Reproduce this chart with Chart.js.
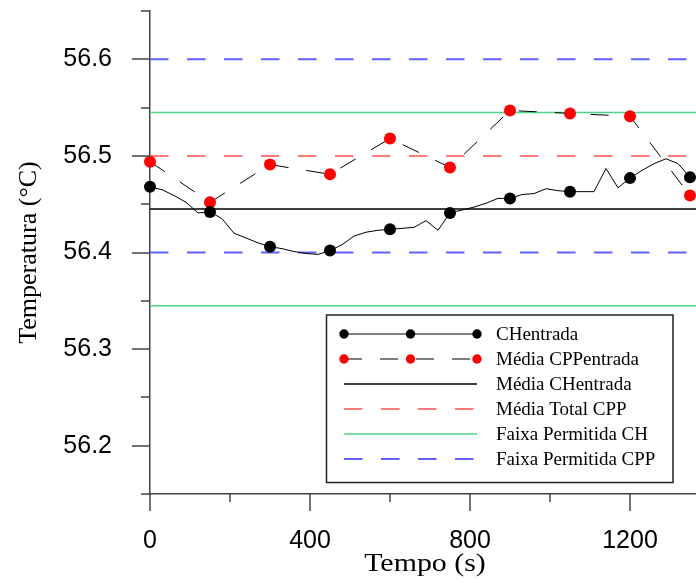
<!DOCTYPE html>
<html>
<head>
<meta charset="utf-8">
<script src="https://cdn.jsdelivr.net/npm/chart.js@4/dist/chart.umd.min.js"></script>
<style>
  html, body { margin: 0; padding: 0; background: #fff; }
  canvas { display: block; }
</style>
</head>
<body>
<canvas id="grafico" width="696" height="583"></canvas>
<script>
// CH na entrada, a cada 30 s
const tempos = [0, 30, 60, 90, 120, 150, 180, 210, 240, 270, 300, 330, 360, 390, 420, 450,
  480, 510, 540, 570, 600, 630, 660, 690, 720, 750, 780, 810, 840, 870, 900, 930, 960, 990,
  1020, 1050, 1080, 1110, 1140, 1170, 1200, 1230, 1260, 1290, 1320, 1350]
const chEntrada = [56.468, 56.465, 56.459, 56.452, 56.441, 56.442, 56.435, 56.420, 56.415, 56.410,
  56.406, 56.404, 56.401, 56.399, 56.398, 56.402, 56.408, 56.417, 56.421, 56.423, 56.424, 56.425,
  56.426, 56.433, 56.423, 56.441, 56.444, 56.447, 56.451, 56.456, 56.456, 56.460, 56.461, 56.466,
  56.464, 56.463, 56.463, 56.463, 56.487, 56.467, 56.477, 56.485, 56.492, 56.497, 56.492, 56.478]

// media CPP na entrada, a cada 150 s
const temposCPP = [0, 150, 300, 450, 600, 750, 900, 1050, 1200, 1350]
const cppEntrada = [56.494, 56.452, 56.491, 56.481, 56.518, 56.488, 56.547, 56.544, 56.541, 56.459]

const mediaCH = 56.445
const mediaCPP = 56.5
const faixaCH = [56.345, 56.545]
const faixaCPP = [56.4, 56.6]

const xLimites = [0, 1365]
const yLimites = [56.15, 56.65]
const xTicksMaior = [0, 400, 800, 1200]
const xTicksMenor = [200, 600, 1000]
const yTicksMaior = [56.2, 56.3, 56.4, 56.5, 56.6]
const yTicksMenor = [56.15, 56.25, 56.35, 56.45, 56.55, 56.65]

const DASH = [18.5, 18.5]
const corAzul = '#6060ff'
const corVermelha = '#ff5050'
const corVerde = '#50d585'
const corEixo = '#444'
const serif = '"Liberation Serif", "Times New Roman", serif'

function horizontal(y) {
  return xLimites.map(x => ({ x: x, y: y }))
}

const datasets = [
  {
    label: 'CHentrada',
    data: tempos.map((t, i) => ({ x: t, y: chEntrada[i] })),
    borderColor: '#000',
    borderWidth: 1,
    pointRadius: ctx => (tempos[ctx.dataIndex] % 150 === 0 ? 6 : 0),
    pointBackgroundColor: '#000',
    pointBorderWidth: 0,
    legenda: { marcador: '#000' }
  },
  {
    label: 'Média CPPentrada',
    data: temposCPP.map((t, i) => ({ x: t, y: cppEntrada[i] })),
    borderColor: '#000',
    borderWidth: 1,
    borderDash: [18, 18],
    pointRadius: 6,
    pointBackgroundColor: '#ff0000',
    pointBorderWidth: 0,
    legenda: { marcador: '#ff0000' }
  },
  {
    label: 'Média CHentrada',
    data: horizontal(mediaCH),
    borderColor: '#000',
    borderWidth: 1.5,
    pointRadius: 0,
    legenda: {}
  },
  {
    label: 'Média Total CPP',
    data: horizontal(mediaCPP),
    borderColor: corVermelha,
    borderWidth: 1.5,
    borderDash: DASH,
    pointRadius: 0,
    legenda: {}
  },
  {
    label: 'Faixa Permitida CH',
    data: horizontal(faixaCH[1]),
    borderColor: corVerde,
    borderWidth: 1.5,
    pointRadius: 0,
    legenda: {}
  },
  {
    label: 'Faixa Permitida CH',
    data: horizontal(faixaCH[0]),
    borderColor: corVerde,
    borderWidth: 1.5,
    pointRadius: 0
  },
  {
    label: 'Faixa Permitida CPP',
    data: horizontal(faixaCPP[1]),
    borderColor: corAzul,
    borderWidth: 2,
    borderDash: DASH,
    pointRadius: 0,
    legenda: {}
  },
  {
    label: 'Faixa Permitida CPP',
    data: horizontal(faixaCPP[0]),
    borderColor: corAzul,
    borderWidth: 2,
    borderDash: DASH,
    pointRadius: 0
  }
]
datasets.forEach(d => { d.clip = false; d.tension = 0; d.fill = false })

// ticks maiores e menores desenhados a mao, e o titulo do eixo x (texto um pouco largo)
const ticksEixos = {
  id: 'ticksEixos',
  afterDraw(chart) {
    const ctx = chart.ctx
    const sx = chart.scales.x
    const sy = chart.scales.y
    const area = chart.chartArea
    ctx.save()
    ctx.strokeStyle = corEixo
    ctx.lineWidth = 1.5
    ctx.beginPath()
    xTicksMaior.forEach(v => {
      const px = Math.round(sx.getPixelForValue(v))
      ctx.moveTo(px, area.bottom); ctx.lineTo(px, area.bottom + 17)
    })
    xTicksMenor.forEach(v => {
      const px = Math.round(sx.getPixelForValue(v))
      ctx.moveTo(px, area.bottom); ctx.lineTo(px, area.bottom + 8)
    })
    yTicksMaior.forEach(v => {
      const py = Math.round(sy.getPixelForValue(v))
      ctx.moveTo(area.left, py); ctx.lineTo(area.left - 18, py)
    })
    yTicksMenor.forEach(v => {
      const py = Math.round(sy.getPixelForValue(v))
      ctx.moveTo(area.left, py); ctx.lineTo(area.left - 9, py)
    })
    ctx.stroke()

    ctx.fillStyle = '#000'
    ctx.font = '26px ' + serif
    ctx.textAlign = 'center'
    ctx.textBaseline = 'alphabetic'
    ctx.translate((area.left + area.right) / 2 + 2, 571)
    ctx.scale(1.15, 1)
    ctx.fillText('Tempo (s)', 0, 0)
    ctx.restore()
  }
}

// legenda em caixa, no estilo do original
const legendaCaixa = {
  id: 'legendaCaixa',
  afterDraw(chart) {
    const ctx = chart.ctx
    const itens = chart.data.datasets.filter(d => d.legenda)
    const box = { x: 326.5, y: 315, w: 346.5, h: 167.5 }
    ctx.save()
    ctx.fillStyle = '#fff'
    ctx.fillRect(box.x, box.y, box.w, box.h)
    ctx.strokeStyle = '#222'
    ctx.lineWidth = 1.5
    ctx.strokeRect(box.x, box.y, box.w, box.h)
    const x0 = 344, x1 = 477
    itens.forEach((d, i) => {
      const y = 334 + i * 25
      ctx.strokeStyle = d.borderColor
      ctx.lineWidth = d.borderWidth
      ctx.setLineDash(d.borderDash || [])
      ctx.beginPath()
      ctx.moveTo(x0, y); ctx.lineTo(x1, y)
      ctx.stroke()
      ctx.setLineDash([])
      if (d.legenda.marcador) {
        ctx.fillStyle = d.legenda.marcador;
        [x0, (x0 + x1) / 2, x1].forEach(mx => {
          ctx.beginPath()
          ctx.arc(mx, y, 4.7, 0, Math.PI * 2)
          ctx.fill()
        })
      }
      ctx.fillStyle = '#000'
      ctx.font = '19px ' + serif
      ctx.textBaseline = 'middle'
      ctx.textAlign = 'left'
      ctx.fillText(d.label, 496, y + 1)
    })
    ctx.restore()
  }
}

const fonteTicks = { family: 'Liberation Sans, Arial, sans-serif', size: 25 }

new Chart(document.getElementById('grafico'), {
  type: 'line',
  data: { datasets: datasets },
  options: {
    responsive: false,
    animation: false,
    events: [],
    layout: { autoPadding: false, padding: { top: 11, right: 0, bottom: 0, left: 0 } },
    plugins: {
      legend: { display: false },
      tooltip: { enabled: false }
    },
    scales: {
      x: {
        type: 'linear',
        min: xLimites[0],
        max: xLimites[1],
        afterBuildTicks: s => { s.ticks = xTicksMaior.map(v => ({ value: v })) },
        afterFit: s => { s.height = 89; s.paddingLeft = 0; s.paddingRight = 0 },
        grid: { display: false, drawTicks: false },
        border: { display: true, color: corEixo, width: 1.5 },
        ticks: { padding: 32, font: fonteTicks, color: '#000', maxRotation: 0, autoSkip: false,
          callback: v => String(v) }
      },
      y: {
        type: 'linear',
        min: yLimites[0],
        max: yLimites[1],
        afterBuildTicks: s => { s.ticks = yTicksMaior.map(v => ({ value: v })) },
        afterFit: s => { s.width = 150; s.paddingTop = 0; s.paddingBottom = 0 },
        grid: { display: false, drawTicks: false },
        border: { display: true, color: corEixo, width: 1.5 },
        ticks: { padding: 38, font: fonteTicks, color: '#000', autoSkip: false,
          callback: v => v.toFixed(1) },
        title: { display: true, text: 'Temperatura (°C)', font: { family: serif, size: 26 },
          color: '#000', padding: { top: 14, bottom: 0 } }
      }
    }
  },
  plugins: [ticksEixos, legendaCaixa]
})
</script>
</body>
</html>
